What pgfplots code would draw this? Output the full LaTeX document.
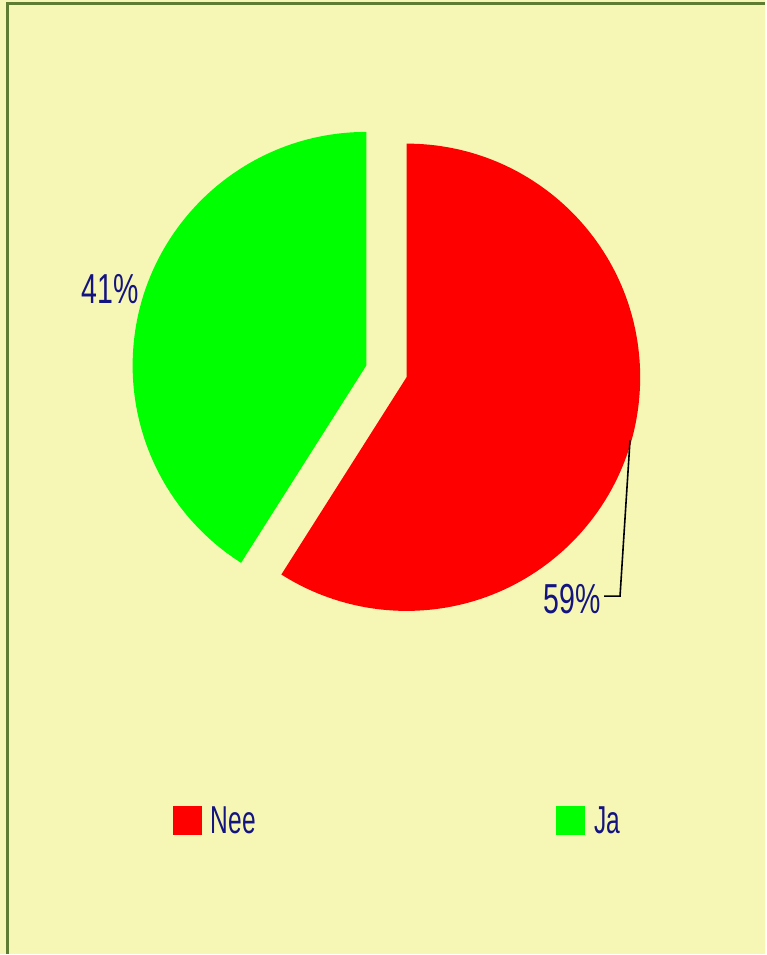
\documentclass[border=0pt]{standalone}
\usepackage{pgfplots}
\pgfplotsset{compat=1.18}
\usepackage{pgfplotstable}
\usepackage{fontspec}
\setmainfont{Liberation Sans}
\newfontfamily\lblfont{Liberation Sans}[FakeStretch=0.68]
\newfontfamily\legfont{Liberation Sans}[FakeStretch=0.63]
\definecolor{bg}{RGB}{247,247,181}
\definecolor{frame}{RGB}{95,125,50}
\definecolor{navy}{RGB}{20,20,128}
\definecolor{pred}{RGB}{255,0,0}
\definecolor{pgreen}{RGB}{0,255,0}

\pgfplotstableread{
label value
Nee 59
Ja 41
}\piedata

\begin{document}%
\begin{tikzpicture}
\pgfplotstablegetelem{0}{value}\of\piedata \global\let\vA\pgfplotsretval
\pgfplotstablegetelem{1}{value}\of\piedata \global\let\vB\pgfplotsretval
\pgfmathsetmacro\tot{\vA+\vB}
\pgfmathsetmacro\angA{\vA/\tot*360}
\pgfmathsetmacro\angB{\vB/\tot*360}
\pgfmathsetmacro\endA{90-\angA}
\pgfmathsetmacro\endB{90+\angB}
\pgfmathsetmacro\midA{90-\angA/2}
\pgfmathsetmacro\midB{90+\angB/2}
\def\cx{387}\def\cy{583}\def\dd{21}\def\rr{234}
\pgfmathsetmacro\rAx{\cx+\dd*cos(\midA)}
\pgfmathsetmacro\rAy{\cy+\dd*sin(\midA)}
\pgfmathsetmacro\rBx{\cx+\dd*cos(\midB)}
\pgfmathsetmacro\rBy{\cy+\dd*sin(\midB)}
\pgfmathsetmacro\tAy{\rAy+\rr}
\pgfmathsetmacro\tBy{\rBy+\rr}
\begin{axis}[width=766pt,height=955pt,scale only axis,
  xmin=0,xmax=766,ymin=0,ymax=955,axis lines=none,ticks=none,clip=false]
\fill[bg] (axis cs:0,0) rectangle (axis cs:766,955);
\draw[frame, line width=3pt] (axis cs:8,0) -- (axis cs:8,951) -- (axis cs:766,951);
% slices
\fill[pred] (axis cs:\rAx,\rAy) -- (axis cs:\rAx,\tAy)
  arc[start angle=90,end angle=\endA,radius=\rr] -- cycle;
\fill[pgreen] (axis cs:\rBx,\rBy) -- (axis cs:\rBx,\tBy)
  arc[start angle=90,end angle=\endB,radius=\rr] -- cycle;
% labels
\node[font=\lblfont\fontsize{42}{42}\selectfont, text=navy, inner sep=0pt] at (axis cs:110,665) {\vB\%};
\node[font=\lblfont\fontsize{42}{42}\selectfont, text=navy, inner sep=0pt] at (axis cs:573,355) {\vA\%};
\draw[black, line width=1.6pt] (axis cs:631,514) -- (axis cs:621,358) -- (axis cs:605,358);
% legend
\fill[pred] (axis cs:173,119) rectangle (axis cs:202,148);
\node[font=\legfont\fontsize{39}{39}\selectfont, text=navy, inner sep=0pt, anchor=west] at (axis cs:211,133.5) {Nee};
\fill[pgreen] (axis cs:557,119) rectangle (axis cs:586,148);
\node[font=\legfont\fontsize{39}{39}\selectfont, text=navy, inner sep=0pt, anchor=west] at (axis cs:595,133.5) {Ja};
\end{axis}
\end{tikzpicture}%
\end{document}
